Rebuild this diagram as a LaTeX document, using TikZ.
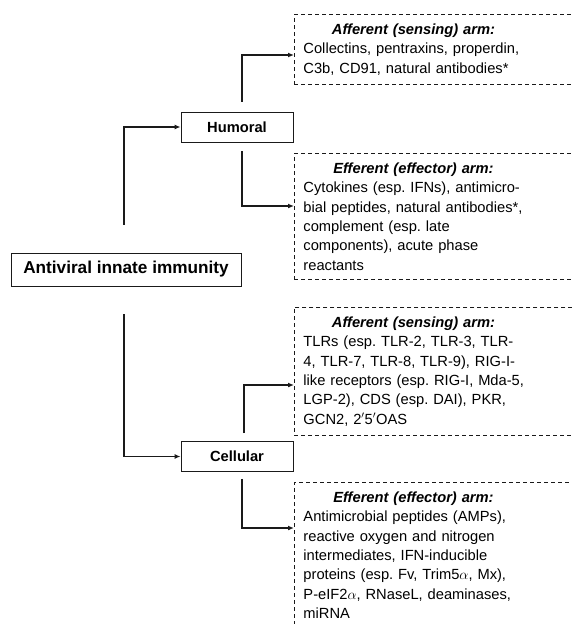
\documentclass[tikz,border=0pt]{standalone}
\usepackage{fontspec}
\setmainfont{Liberation Sans}
\usepackage{tikz}
\usetikzlibrary{
  arrows.meta,
  positioning
}
\frenchspacing
\definecolor{aiLine}{HTML}{1A1A1A}
\tikzset{
  ainode/.style={
    draw=aiLine, line width=0.9pt, inner sep=0pt, align=center,
    font=\fontsize{14.7}{17}\selectfont\bfseries
  },
  rootbox/.style={ainode, minimum width=230pt, minimum height=33pt, font=\fontsize{17.2}{20}\selectfont\bfseries},
  branchbox/.style={ainode, minimum width=112pt, minimum height=30pt},
  armbox/.style={
    draw=aiLine, line width=0.9pt, dash pattern=on 4pt off 3pt,
    text width=330pt, align=left, inner xsep=9pt, inner ysep=9.5pt,
    anchor=north west, font=\fontsize{14.7}{19.3}\selectfont
  },
  flow/.style={-{Latex[length=6pt, width=5pt]}, line width=1.2pt, aiLine}
}
\newcommand{\armtitle}[1]{\makebox[220pt][c]{\bfseries\itshape #1}\\}

\begin{document}
\begin{tikzpicture}[x=1pt, y=1pt]
  \useasboundingbox (0,0) rectangle (571,-624);
  \node[rootbox] (imm) at (126,-269.5) {Antiviral innate immunity};
  \node[branchbox] (hum) at (237,-127) {Humoral};
  \node[branchbox] (cel) at (237,-456.5) {Cellular};
  \node[armbox] (h1) at (294,-14) {\armtitle{Afferent (sensing) arm:}Collectins, pentraxins, properdin,\\C3b, CD91, natural antibodies*};
  \node[armbox] (h2) at (294,-153) {\armtitle{Efferent (effector) arm:}Cytokines (esp. IFNs), antimicro-\\bial peptides, natural antibodies*,\\complement (esp. late\\components), acute phase\\reactants};
  \node[armbox] (c1) at (294,-307) {\armtitle{Afferent (sensing) arm:}TLRs (esp. TLR-2, TLR-3, TLR-\\4, TLR-7, TLR-8, TLR-9), RIG-I-\\like receptors (esp. RIG-I, Mda-5,\\LGP-2), CDS (esp. DAI), PKR,\\GCN2, 2$'$5$'$OAS};
  \node[armbox] (c2) at (294,-482) {\armtitle{Efferent (effector) arm:}Antimicrobial peptides (AMPs),\\reactive oxygen and nitrogen\\intermediates, IFN-inducible\\proteins (esp. Fv, Trim5$\alpha$, Mx),\\P-eIF2$\alpha$, RNaseL, deaminases,\\miRNA};
  \coordinate[above=28pt of imm.north, xshift=-2pt] (imm-up);
  \coordinate[below=28pt of imm.south, xshift=-2pt] (imm-dn);
  \coordinate[above=10pt of hum.north, xshift=5pt] (hum-up);
  \coordinate[below=9pt of hum.south, xshift=5pt] (hum-dn);
  \coordinate[above=8pt of cel.north, xshift=7pt] (cel-up);
  \coordinate[below=7pt of cel.south, xshift=5pt] (cel-dn);
  \draw[flow] (imm-up) |- (hum.west);
  \draw[flow] (imm-dn) |- (cel.west);
  \draw[flow] (hum-up) |- ([yshift=-41pt]h1.north west);
  \draw[flow] (hum-dn) |- ([yshift=-53pt]h2.north west);
  \draw[flow] (cel-up) |- ([yshift=-78pt]c1.north west);
  \draw[flow] (cel-dn) |- ([yshift=-46pt]c2.north west);
\end{tikzpicture}
\end{document}
